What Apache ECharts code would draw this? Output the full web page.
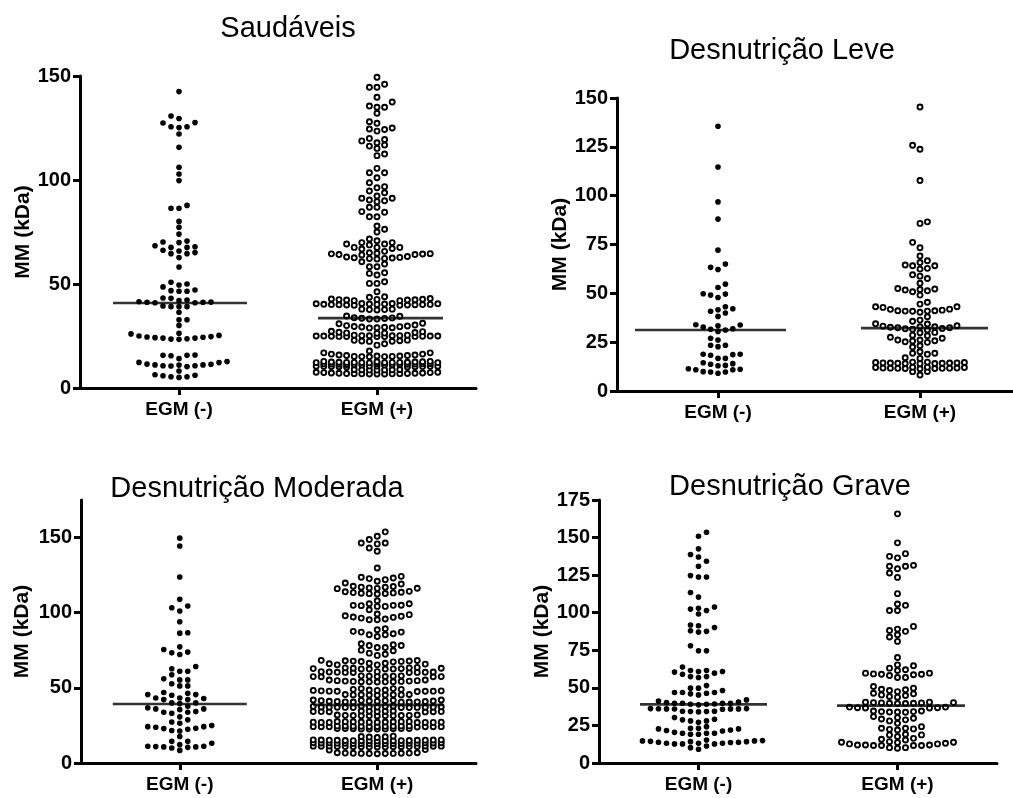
<!DOCTYPE html>
<html>
<head>
<meta charset="utf-8">
<script src="https://cdn.jsdelivr.net/npm/echarts@6/dist/echarts.min.js"></script>
<style>
html,body{margin:0;padding:0;background:#fff;}
#chart{width:1013px;height:798px;}
</style>
</head>
<body>
<div id="chart"></div>
<script>
// ---------------- DATA ----------------
const categories = ['EGM (-)', 'EGM (+)'];
const panelTitles = ['Saudáveis', 'Desnutrição Leve', 'Desnutrição Moderada', 'Desnutrição Grave'];
const axisName = 'MM (kDa)';
const yMax = [150, 150, 175, 175];
const yInterval = [50, 25, 50, 25];
const yTicks = [[0, 50, 100, 150], [0, 25, 50, 75, 100, 125, 150], [0, 50, 100, 150], [0, 25, 50, 75, 100, 125, 150, 175]];

const saudaveisNeg = [142.5,
  130.8, 129.6, 127.6, 127.4, 125.6, 125.2, 125.6,
  122.1, 115.7, 106.1, 102.9, 99.7,
  87.8, 86.4, 86.4, 80.1, 77.3, 74.0,
  70.2, 68.4, 67.6, 67.6, 67.9, 69.9, 70.7,
  65.9, 64.6, 62.7, 64.6, 65.1, 66.2,
  58.2,
  50.8, 49.5, 47.1, 46.5, 46.5, 46.8, 48.6, 50.0,
  43.1, 42.0, 41.2, 41.2, 41.0, 41.0, 41.3, 41.5, 42.3, 43.3,
  39.1, 39.1, 39.1, 39.4,
  36.4, 32.8, 32.8, 30.1,
  26.0, 25.0, 24.5, 24.4, 24.0, 23.5, 23.4, 23.7, 24.0, 24.2, 24.7, 25.3, 26.3,
  15.7, 15.7, 15.9, 15.5,
  12.7, 12.2, 11.5, 11.1, 10.7, 10.6, 10.3, 10.7, 11.0, 11.1, 11.4, 12.3, 14.1,
  8.2,
  6.1, 5.4, 5.1, 5.4, 5.9, 6.4];

const saudaveisPos = [149.4,
  146.0, 144.6, 144.6,
  139.8, 137.5, 135.0, 135.0, 135.6, 132.1,
  128.0, 127.3, 125.0, 124.5, 124.3, 123.5,
  120.0, 119.5, 118.8, 117.9, 116.8, 116.3, 115.2,
  112.5, 111.7,
  105.6, 103.5, 103.5, 101.1, 98.7, 96.8, 96.3, 94.7, 93.9, 92.3, 91.2, 91.2, 90.4, 90.0, 89.6,
  86.9, 86.9, 84.8, 84.5, 82.3, 82.3,
  77.9, 76.3, 75.0,
  71.6, 70.8, 69.9, 69.9, 69.2, 69.2, 68.8,
  67.6, 67.6, 67.6, 67.1, 66.8, 65.7,
  65.0, 64.6, 64.4, 64.2, 64.0, 64.2, 64.5, 64.8,
  63.2, 62.8, 62.5, 62.2, 62.0, 62.3, 62.6, 63.0,
  58.3, 59.6, 60.7, 58.3,
  55.4, 55.1, 54.3,
  50.3, 51.1, 50.3,
  46.3,
  43.6, 42.8, 42.6, 42.4, 42.3, 42.0, 42.0, 42.3, 42.5, 42.7, 43.0, 43.9,
  40.6, 40.5, 40.4, 40.2, 40.1, 40.0, 39.9, 39.8, 39.8, 39.9, 40.0, 40.1, 40.2, 40.3, 40.4, 40.5, 40.6,
  37.9, 37.7, 37.5, 37.7, 37.9,
  34.5, 33.8, 33.5, 33.2, 33.2, 33.4, 33.7, 34.6,
  31.1, 30.3, 29.8, 29.5, 29.2, 29.0, 28.9, 29.0, 29.3, 29.6, 30.0, 30.9,
  27.3, 26.8, 26.5, 26.3, 26.4, 26.7, 27.1,
  25.4, 25.2, 25.1, 25.0, 25.0, 24.9, 24.8, 24.7, 24.7, 24.7, 24.8, 24.9, 25.0, 25.0, 25.1, 25.2, 25.4,
  23.0, 22.7, 22.5, 22.4, 22.6, 22.9, 20.6, 21.3,
  17.8,
  16.9, 16.3, 15.9, 15.6, 15.4, 15.2, 15.1, 15.0, 15.1, 15.2, 15.4, 15.6, 15.9, 16.3, 16.9,
  12.8, 12.6, 12.5, 12.4, 12.3, 12.3, 12.2, 12.2, 12.1, 12.2, 12.2, 12.3, 12.3, 12.4, 12.5, 12.6, 12.8,
  11.7, 11.6, 11.5, 11.4, 11.3, 11.2, 11.1, 11.1, 11.2, 11.3, 11.4, 11.5, 11.6, 11.7,
  10.6, 10.5, 10.4, 10.3, 10.2, 10.1, 10.1, 10.2, 10.3, 10.4, 10.5, 10.6,
  8.9, 8.8, 8.7, 8.6, 8.7, 8.8, 8.9,
  7.6, 7.4, 7.2, 7.1, 7.0, 6.9, 6.8, 6.7, 6.7, 6.7, 6.8, 6.9, 7.0, 7.1, 7.2, 7.4, 7.6];

const leveNeg = [135.5, 114.7, 96.8, 88.0, 72.1,
  65.0, 62.2, 63.3,
  54.7, 53.0,
  49.6, 47.9, 49.1, 49.8,
  42.1, 40.8, 43.1, 39.9, 41.6, 38.2,
  33.8, 32.7, 31.9, 31.6, 31.2, 30.5, 33.4, 33.9,
  26.1, 27.0,
  23.4, 22.7, 23.4,
  18.8, 18.3, 18.6, 18.8, 16.7,
  16.7, 14.5, 13.7, 13.1, 14.0,
  12.9, 11.1, 10.9, 9.7, 9.1, 9.7, 9.9, 10.9, 11.4];

const levePos = [145.4, 125.8, 123.8, 107.8, 86.6, 85.8,
  76.1, 73.3, 69.1,
  66.7, 64.5, 64.1, 64.1, 65.8, 62.4, 62.8,
  58.8, 59.5, 57.6, 55.2,
  52.2, 51.7, 50.8, 49.1, 51.3, 52.0, 52.5,
  44.5, 45.4,
  43.1, 42.8, 41.8, 41.4, 41.1, 40.8, 40.3, 40.9, 40.9, 41.1, 41.9, 43.1, 38.0,
  35.7, 36.3,
  34.3, 33.4, 32.9, 32.4, 32.0, 31.6, 31.2, 31.9, 32.4, 32.6, 32.9, 33.2, 34.4,
  30.0, 28.3, 27.0, 27.5, 28.6, 29.8, 25.2, 26.1,
  26.1, 25.6, 24.9, 23.2, 22.5, 25.7,
  19.3, 18.8, 16.7, 17.0, 19.3, 20.1,
  14.8, 14.6, 14.4, 14.3, 14.2, 14.1, 14.0, 14.1, 14.2, 14.3, 14.4, 14.6, 14.8,
  12.2, 12.0, 11.8, 11.7, 11.6, 11.5, 11.4, 11.5, 11.6, 11.7, 11.8, 12.0, 12.2,
  10.0, 8.2, 9.9];

const moderadaNeg = [149.6, 144.4, 123.8, 108.9, 103.3, 101.1, 104.4, 94.0, 86.7, 86.4,
  77.3, 73.8, 72.2, 73.3, 75.5,
  64.2, 61.1, 61.1, 62.7, 58.7,
  56.0, 55.3, 51.3, 51.3, 52.7, 55.3,
  46.9, 45.5, 45.1, 45.5, 46.4, 43.3, 42.2, 43.3, 42.9, 42.2, 40.0, 39.5, 40.0,
  37.8, 36.0, 35.5, 33.8, 33.1, 33.8, 34.2, 36.0, 36.7,
  30.7, 27.3, 26.4, 28.7,
  24.9, 24.2, 23.1, 22.4, 21.6, 21.3, 22.9, 23.8, 24.2,
  17.6, 14.4, 14.4,
  12.2, 11.1, 10.7, 10.7, 8.4, 10.0, 10.4, 10.9, 11.1, 13.1];

const moderadaPos = [153.8, 150.9, 148.7, 146.4, 146.4, 145.8, 143.1, 140.9,
  129.8,
  124.2, 123.6, 123.1, 122.7, 122.0, 120.9, 119.8, 119.1,
  117.6, 117.0, 116.5, 116.2, 116.0, 116.3, 116.9, 117.4,
  113.9, 113.4, 113.0, 112.7, 112.5, 112.8, 113.2, 113.6, 114.2,
  108.0, 106.0, 105.0, 104.9, 104.2, 104.2, 104.7, 104.9, 106.0, 102.0,
  99.1, 97.6, 97.1, 96.4, 95.8, 95.3, 95.3, 96.9, 98.0, 98.7,
  88.7, 89.3, 87.1, 86.0, 85.3, 84.2, 85.3, 87.1, 87.6,
  78.7, 78.2, 76.9, 74.7, 75.1, 76.9, 78.2, 79.3,
  73.1, 71.6, 72.4,
  68.3, 68.0, 67.8, 67.5, 67.3, 67.6, 67.9, 68.2,
  66.4, 66.0, 65.3, 63.6, 65.3, 65.8, 66.4,
  63.3, 63.0, 62.8, 62.6, 62.5, 62.5, 62.6, 62.8, 63.0, 63.3,
  60.8, 60.6, 60.4, 60.3, 60.2, 60.2, 60.3, 60.4, 60.6, 60.8,
  58.0, 57.8, 57.6, 57.5, 57.4, 57.4, 57.5, 57.6, 57.8, 58.0,
  55.2, 54.8, 54.5, 54.3, 54.1, 54.0, 53.9, 54.0, 54.1, 54.3, 54.5, 54.8, 55.2,
  49.5, 49.0, 48.6, 48.3, 48.0, 47.8, 47.7, 47.6, 47.7, 47.8, 48.0, 48.3, 48.6, 49.0, 49.5,
  45.6, 45.4, 45.3, 45.2, 45.1, 45.2, 45.3, 45.4, 45.6,
  41.9, 41.7, 41.5, 41.3, 41.1, 40.9, 40.7, 40.6, 40.5, 40.6, 40.7, 40.9, 41.1, 41.3, 41.5, 41.7, 41.9,
  37.9, 37.7, 37.5, 37.3, 37.2, 37.1, 37.0, 36.9, 36.9, 36.9, 37.0, 37.1, 37.2, 37.3, 37.5, 37.7, 37.9,
  34.6, 34.4, 34.3, 34.2, 34.1, 34.0, 34.1, 34.2, 34.3, 34.4, 34.6,
  31.9, 31.7, 31.6, 31.5, 31.4, 31.3, 31.4, 31.5, 31.6, 31.7, 31.9,
  27.6, 27.5, 27.4, 27.3, 27.2, 27.1, 27.0, 27.0, 26.9, 27.0, 27.0, 27.1, 27.2, 27.3, 27.4, 27.5, 27.6,
  24.7, 24.6, 24.5, 24.4, 24.3, 24.2, 24.1, 24.1, 24.0, 24.1, 24.1, 24.2, 24.3, 24.4, 24.5, 24.6, 24.7,
  23.0, 22.9, 22.8, 22.7, 22.6, 22.6, 22.7, 22.8, 22.9, 23.0,
  17.9, 17.5, 17.0, 17.3, 17.6,
  15.4, 15.3, 15.2, 15.1, 15.0, 14.9, 14.8, 14.8, 14.7, 14.8, 14.8, 14.9, 15.0, 15.1, 15.2, 15.3, 15.4,
  13.5, 13.4, 13.3, 13.2, 13.1, 13.0, 13.0, 12.9, 12.9, 12.9, 13.0, 13.0, 13.1, 13.2, 13.3, 13.4, 13.5,
  11.3, 11.2, 11.1, 11.0, 10.9, 10.8, 10.8, 10.7, 10.7, 10.7, 10.8, 10.8, 10.9, 11.0, 11.1, 11.2, 11.3,
  8.7, 8.9,
  6.8, 6.6, 6.5, 6.4, 6.3, 6.2, 6.3, 6.4, 6.5, 6.6, 6.8];

const graveNeg = [153.5, 150.9, 142.5, 138.7, 137.1, 134.2, 130.9,
  124.7, 123.8, 123.8,
  113.5, 110.4,
  103.8, 102.4, 99.1, 101.5, 102.9,
  91.8, 90.2, 88.0, 87.1, 87.6, 91.3,
  78.0, 74.7, 74.7,
  60.5, 59.8, 61.5, 61.5, 63.8, 59.1, 60.9, 60.9, 57.5, 56.9, 57.5,
  48.2, 46.9, 49.8, 49.8, 51.5, 46.9, 46.9, 46.0, 46.4, 45.3,
  42.0, 40.5, 39.8, 39.3, 38.7, 39.1, 39.1, 39.8, 39.8, 39.8, 40.2, 41.3,
  36.2, 36.0, 35.8, 35.9, 36.0, 36.1, 36.0, 36.2,
  34.4, 34.2, 34.0, 34.2, 34.4,
  30.2, 28.0, 27.1, 28.0, 29.1, 28.7,
  23.1, 21.6, 22.0, 22.7, 23.1, 21.3, 22.7, 24.2,
  19.8, 19.8, 19.1, 19.8, 20.4, 19.1,
  14.7, 14.2, 13.8, 13.1, 13.1, 12.7, 15.3, 14.9, 12.7, 12.7, 13.1, 13.6, 13.8, 14.2, 14.4, 14.7,
  11.3, 9.1, 10.2];

const gravePos = [165.8, 146.5,
  137.5, 136.5, 139.3,
  130.9, 129.3, 130.9, 131.5, 126.4, 123.5,
  112.7,
  105.8, 101.5, 101.5, 104.9,
  89.1, 87.6, 88.2, 90.9, 83.8, 85.3, 80.9,
  70.2,
  64.7, 63.1, 65.3,
  62.0, 59.8, 59.3, 59.1, 58.2, 56.9, 56.9, 58.7, 59.1, 59.8, 61.5,
  50.9, 49.8,
  48.7, 47.5, 46.4, 45.3, 43.8, 44.2, 44.9, 46.0, 48.2, 49.1,
  40.5, 40.2, 40.0, 39.8, 39.6, 39.6, 39.8, 40.0, 40.2, 40.5,
  37.2, 36.8, 36.6, 36.6, 36.8, 37.2,
  34.6, 34.2, 33.9, 33.8, 33.9, 34.2, 34.6,
  30.2, 29.3, 28.7, 26.4, 28.0, 29.8, 30.9,
  23.1, 22.4, 22.0, 22.7, 23.1, 24.2,
  18.7, 19.1, 15.8, 15.3, 17.6, 18.7, 16.4,
  14.2, 13.8, 13.1, 12.7, 12.0, 11.6, 11.6, 10.2, 9.8, 10.2, 11.6, 11.6, 12.0, 12.0, 12.7, 13.6, 13.8];

const medians = [[40.9, 33.6], [31.2, 32.2], [39.3, 38.7], [39.0, 38.2]];

const groups = [[saudaveisNeg, saudaveisPos], [leveNeg, levePos], [moderadaNeg, moderadaPos], [graveNeg, gravePos]];

// ---------------- LAYOUT / STYLE ----------------
const grids = [
  {left: 80, top: 76, width: 396, height: 312},
  {left: 617, top: 98, width: 404, height: 293},
  {left: 81, top: 500, width: 395, height: 263},
  {left: 599, top: 500, width: 398, height: 263}
];
const titlePos = [[288, 14], [782, 36], [257, 474], [790, 472]];
const nameGaps = [46, 45, 48, 46];
const dotStep = [[8, 7.6], [7.4, 7.4], [8, 8], [8, 8]];
const maxRow = [[13, 17], [9, 13], [11, 17], [17, 17]];
const collidePx = 5.5;
const medianW = [[134, 125], [151, 127], [134, 130], [127, 128]];
const medianDx = [[1, 3.5], [-7.5, 4.5], [0, 1], [5, 3.5]];

const FONT = 'Liberation Sans, Arial, Helvetica, sans-serif';

// beeswarm placement on a grid of horizontal slots (layout only; values untouched)
function swarm(vals, catIdx, ppu, step, mRow) {
  const sorted = vals.slice().sort((a, b) => a - b);
  const L = Math.floor((mRow - 1) / 2);
  const slots = {};
  const out = [];
  let toggle = -1;
  const minDy = (s, y) => {
    const a = slots[s] || [];
    let m = Infinity;
    for (const t of a) m = Math.min(m, Math.abs(t - y));
    return m;
  };
  sorted.forEach(v => {
    const y = v * ppu;
    let chosen = null;
    if (minDy(0, y) >= collidePx) chosen = 0;
    else {
      for (let k = 1; k <= L && chosen === null; k++) {
        const a = toggle * k, b = -toggle * k;
        if (minDy(a, y) >= collidePx) chosen = a;
        else if (minDy(b, y) >= collidePx) chosen = b;
      }
    }
    if (chosen === null) {
      let best = -1;
      const cand = [0];
      for (let k = 1; k <= L; k++) cand.push(toggle * k, -toggle * k);
      for (const s of cand) {
        const md = minDy(s, y);
        if (md > best + 0.3) { best = md; chosen = s; }
      }
    }
    if (chosen !== 0) toggle = -Math.sign(chosen);
    (slots[chosen] = slots[chosen] || []).push(y);
    out.push({value: [catIdx, v], symbolOffset: [chosen * step, 0]});
  });
  return out;
}

const chart = echarts.init(document.getElementById('chart'), null, {renderer: 'canvas'});

const option = {
  animation: false,
  backgroundColor: '#fff',
  title: panelTitles.map((t, i) => ({
    text: t, left: titlePos[i][0], top: titlePos[i][1], textAlign: 'center', padding: 0,
    textStyle: {fontFamily: FONT, fontSize: 29, fontWeight: 'normal', color: '#000'}
  })),
  grid: grids.map(g => Object.assign({containLabel: false, outerBoundsMode: 'none'}, g)),
  xAxis: grids.map((g, i) => ({
    type: 'category', gridIndex: i, data: categories, boundaryGap: true,
    axisLine: {show: true, lineStyle: {color: '#000', width: 3}},
    axisTick: {show: true, alignWithLabel: true, length: 7, lineStyle: {color: '#000', width: 3}},
    axisLabel: {color: '#000', fontFamily: FONT, fontWeight: 'bold', fontSize: 19, margin: 12},
    splitLine: {show: false}
  })),
  yAxis: grids.map((g, i) => ({
    type: 'value', gridIndex: i, min: 0, max: yMax[i], interval: yInterval[i],
    name: axisName, nameLocation: 'middle', nameGap: nameGaps[i],
    nameTextStyle: {color: '#000', fontFamily: FONT, fontWeight: 'bold', fontSize: 21},
    axisLine: {show: true, lineStyle: {color: '#000', width: 3}},
    axisTick: {show: true, length: 7, lineStyle: {color: '#000', width: 3}, customValues: yTicks[i]},
    axisLabel: {color: '#000', fontFamily: FONT, fontWeight: 'bold', fontSize: 20, margin: 9, customValues: yTicks[i]},
    splitLine: {show: false}
  })),
  series: []
};

groups.forEach((pair, p) => {
  const ppu = grids[p].height / yMax[p];
  pair.forEach((vals, c) => {
    const open = c === 1;
    option.series.push({
      type: 'scatter', xAxisIndex: p, yAxisIndex: p, silent: true,
      symbol: 'circle', symbolSize: open ? 5 : 5.6,
      itemStyle: open ? {color: '#fff', borderColor: '#000', borderWidth: 1.9, opacity: 1} : {color: '#000', opacity: 1},
      data: swarm(vals, c, ppu, dotStep[p][c], maxRow[p][c]),
      z: 2
    });
    option.series.push({
      type: 'scatter', xAxisIndex: p, yAxisIndex: p, silent: true,
      symbol: 'rect', symbolSize: [medianW[p][c], 2.6],
      symbolOffset: [medianDx[p][c], 0],
      itemStyle: {color: '#000'},
      data: [[c, medians[p][c]]],
      z: 3
    });
  });
});

chart.setOption(option);
</script>
</body>
</html>
